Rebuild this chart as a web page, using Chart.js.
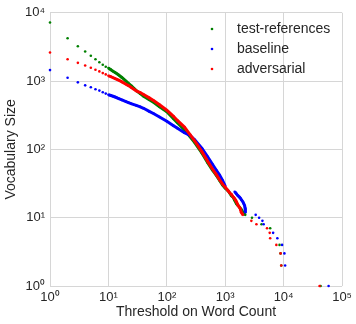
<!DOCTYPE html>
<html>
<head>
<meta charset="utf-8">
<script src="https://cdn.jsdelivr.net/npm/chart.js@4.4.0/dist/chart.umd.min.js"></script>
<style>
  html, body { margin: 0; padding: 0; background: #fff; }
</style>
</head>
<body>
<canvas id="vocabChart" width="356" height="324"></canvas>
<script>
const seriesNames = ["test-references", "baseline", "adversarial"];
const seriesColors = ["#008000", "#0000ff", "#ff0000"];

// test-references
const refThreshold = [1, 2, 3, 4, 5, 6, 7, 8, 9, 10, 11, 12, 13, 14, 15, 17, 20, 22, 25, 30, 35, 40, 50, 60, 75, 100, 130, 150, 200, 250, 300, 400, 500, 600, 700, 800, 900, 1000, 1110, 1190, 1270, 1360, 1450, 1560, 1670, 1780, 1900, 2010, 2200, 2870, 4180, 5880, 8500, 8850, 9100, 42900];
const refVocab = [7200, 4230, 3240, 2710, 2345, 2094, 1892, 1733, 1622, 1550, 1470, 1395, 1335, 1280, 1230, 1130, 1000, 930, 845, 725, 655, 600, 535, 485, 420, 355, 282, 247, 193, 153, 126, 88, 64, 50, 42, 35, 30, 27, 25, 23, 21, 20, 18, 16, 15, 14, 13, 12, 11, 10, 8, 7, 4, 3, 2, 1];

// baseline
const baseThreshold = [1, 2, 3, 4, 5, 6, 7, 8, 9, 10, 11, 12, 13, 14, 15, 17, 20, 22, 25, 30, 35, 40, 50, 60, 75, 100, 130, 150, 200, 250, 300, 400, 500, 600, 700, 800, 900, 1000, 1450, 1520, 1580, 1650, 1750, 1840, 1920, 2010, 2080, 2150, 2180, 2200, 2220, 3320, 3800, 4330, 4550, 6600, 7800, 9400, 10300, 10600, 58800];
const baseVocab = [1450, 1120, 959, 867, 811, 759, 726, 686, 656, 632, 615, 600, 585, 570, 555, 530, 500, 485, 465, 440, 420, 400, 360, 333, 298, 258, 222, 205, 175, 160, 138, 103, 78, 61, 50, 42, 35, 29, 24, 23, 22, 21, 20, 19, 18, 17, 16, 15, 14, 13, 12, 11, 10, 9, 8, 6, 5, 4, 3, 2, 1];

// adversarial
const advThreshold = [1, 2, 3, 4, 5, 6, 7, 8, 9, 10, 11, 12, 13, 14, 15, 17, 20, 22, 25, 30, 35, 40, 50, 60, 75, 100, 130, 150, 200, 250, 300, 400, 500, 600, 700, 800, 900, 1000, 1110, 1200, 1270, 1370, 1450, 1510, 1560, 1610, 1660, 1780, 1830, 1880, 2010, 2800, 3420, 5190, 5770, 5880, 7500, 8850, 9100, 41200];
const advVocab = [2620, 2090, 1850, 1695, 1568, 1466, 1386, 1310, 1253, 1195, 1160, 1120, 1090, 1060, 1030, 975, 900, 860, 800, 720, 680, 635, 568, 515, 450, 375, 305, 268, 212, 165, 133, 92, 67, 52, 43, 36, 31, 28, 25, 23, 22, 20, 19, 18, 17, 16, 15, 14, 13, 12, 11, 9, 8, 7, 6, 5, 4, 3, 2, 1];

const xTicks = [1, 10, 100, 1000, 10000, 100000];
const yTicks = [1, 10, 100, 1000, 10000];

const sup = ["\u2070", "\u00b9", "\u00b2", "\u00b3", "\u2074", "\u2075"];
const textColor = "#262626";
const gridColor = "#d6d6d6";
const fontFamily = '"Liberation Sans", Arial, sans-serif';

function toPoints(xs, ys) {
    return xs.map((x, i) => ({ x: x, y: ys[i] }));
}

// dots only run together into a band between thresholds 10 and ~2300
function segColor(color) {
    return ctx => {
        const x0 = ctx.p0.parsed.x;
        const x1 = ctx.p1.parsed.x;
        const joined = x0 >= 10 && x1 <= 2300 && x1 / x0 < 1.4;
        return joined ? color : "rgba(0,0,0,0)";
    };
}

function makeDataset(i, xs, ys, order) {
    return {
        label: seriesNames[i],
        data: toPoints(xs, ys),
        showLine: true,
        borderColor: seriesColors[i],
        borderWidth: 3,
        segment: { borderColor: segColor(seriesColors[i]) },
        pointRadius: 1.3,
        pointBorderWidth: 0,
        pointBackgroundColor: seriesColors[i],
        clip: false,
        order: order,
    };
}

const dotLegend = {
    id: "dotLegend",
    afterDatasetsDraw(chart) {
        const c = chart.ctx;
        c.save();
        c.font = "14px " + fontFamily;
        c.textBaseline = "middle";
        seriesNames.forEach((name, i) => {
            const y = 29 + i * 20;
            c.fillStyle = seriesColors[i];
            c.beginPath();
            c.arc(212, y, 1.3, 0, Math.PI * 2);
            c.fill();
            c.fillStyle = textColor;
            c.fillText(name, 237, y);
        });
        c.restore();
    }
};

const ctx = document.getElementById("vocabChart").getContext("2d");

const myChart = new Chart(ctx, {
    type: "scatter",
    data: {
        datasets: [
            makeDataset(0, refThreshold, refVocab, 3),
            makeDataset(1, baseThreshold, baseVocab, 2),
            makeDataset(2, advThreshold, advVocab, 1),
        ],
    },
    options: {
        responsive: false,
        animation: false,
        layout: { padding: { top: 11, right: 13.5, left: 0, bottom: 0 } },
        plugins: {
            legend: { display: false },
            tooltip: { enabled: false },
        },
        scales: {
            x: {
                type: "logarithmic",
                min: 1,
                max: 100000,
                afterBuildTicks: scale => { scale.ticks = xTicks.map(v => ({ value: v })); },
                afterFit: scale => { scale.height = 38; },
                ticks: {
                    color: textColor,
                    font: { family: fontFamily, size: 13 },
                    padding: 4,
                    maxRotation: 0,
                    autoSkip: false,
                    callback: v => "10" + sup[Math.round(Math.log10(v))],
                },
                grid: { color: gridColor, lineWidth: 1, drawTicks: false },
                border: { display: false },
                title: {
                    display: true,
                    text: "Threshold on Word Count",
                    color: textColor,
                    font: { family: fontFamily, size: 14 },
                    padding: { top: 0, bottom: 3 },
                },
            },
            y: {
                type: "logarithmic",
                min: 1,
                max: 10000,
                afterBuildTicks: scale => { scale.ticks = yTicks.map(v => ({ value: v })); },
                afterFit: scale => { scale.width = 50; },
                ticks: {
                    color: textColor,
                    font: { family: fontFamily, size: 13 },
                    padding: 5,
                    autoSkip: false,
                    callback: v => "10" + sup[Math.round(Math.log10(v))],
                },
                grid: { color: gridColor, lineWidth: 1, drawTicks: false },
                border: { display: false },
                title: {
                    display: true,
                    text: "Vocabulary Size",
                    color: textColor,
                    font: { family: fontFamily, size: 14 },
                    padding: { top: 3, bottom: 0 },
                },
            },
        },
    },
    plugins: [dotLegend],
});
</script>
</body>
</html>
